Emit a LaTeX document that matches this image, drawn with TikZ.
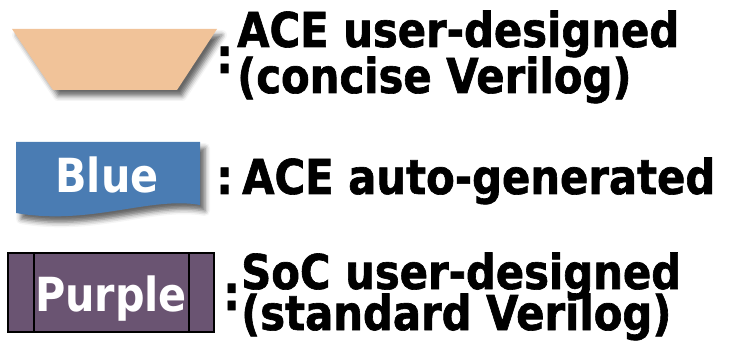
\documentclass[tikz,border=0pt]{standalone}
\usepackage{fontspec}
\newfontfamily\labelfont[FakeStretch=0.87, FakeBold=1.3]{DejaVu Sans}
\newfontfamily\boxfont[FakeStretch=0.88]{DejaVu Sans}
\usetikzlibrary{shadows.blur}
\definecolor{acepeach}{HTML}{F1C399}
\definecolor{aceblue}{HTML}{4A7CB3}
\definecolor{socpurple}{HTML}{6A5472}
\begin{document}
\begin{tikzpicture}[x=1pt,y=-1pt,
  lbl/.style={font=\labelfont\bfseries\fontsize{48}{48}\selectfont, inner sep=0pt, anchor=base west},
  boxlbl/.style={font=\boxfont\bfseries\fontsize{47}{47}\selectfont, inner sep=0pt, anchor=base, text=white},
  softshadow/.style={blur shadow={shadow xshift=5pt, shadow yshift=-6pt, shadow blur radius=5pt, shadow opacity=60}}]
\useasboundingbox (0,0) rectangle (735,344);

% ACE user-designed: trapezoid
\path[fill=acepeach, softshadow] (12,29) -- (217,29) -- (177,90) -- (53,90) -- cycle;
\node[lbl] (c1) at (216,73) {:};
\node[lbl] (t1) at (237,47) {ACE user-designed};
\node[lbl] (t2) at (237,93) {(concise Verilog)};

% ACE auto-generated: document shape
\path[fill=aceblue, softshadow] (16,142) -- (200,142) -- (200,205)
  .. controls (150,196) and (90,226) .. (16,213) -- cycle;
\node[boxlbl] (b) at (107,193) {Blue};
\node[lbl] (c3) at (216,194) {:};
\node[lbl] (t3) at (242,194) {ACE auto-generated};

% SoC user-designed: predefined process box
\draw[fill=socpurple, line width=1.5pt] (8,253) rectangle (214,332);
\draw[line width=1.5pt] (34,253) -- (34,332) (189,253) -- (189,332);
\node[boxlbl] (p) at (111,311) {Purple};
\node[lbl] (c2) at (223,310) {:};
\node[lbl] (t4) at (241,289) {SoC user-designed};
\node[lbl] (t5) at (241,330) {(standard Verilog)};
\end{tikzpicture}
\end{document}
